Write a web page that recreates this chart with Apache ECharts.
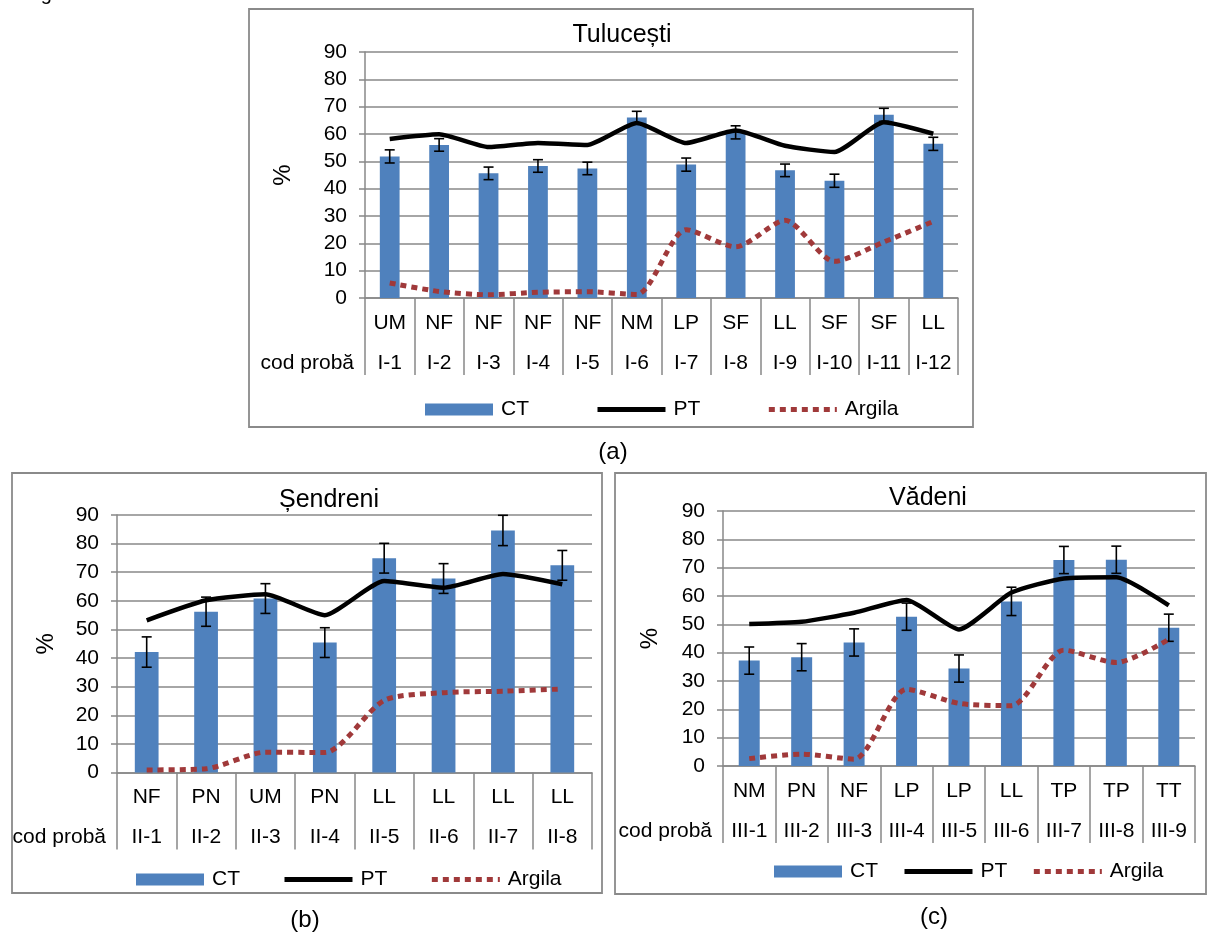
<!DOCTYPE html>
<html>
<head>
<meta charset="utf-8">
<script src="https://cdn.jsdelivr.net/npm/echarts@6/dist/echarts.min.js"></script>
<style>
  html, body { margin: 0; padding: 0; background: #fff; }
  #chart { width: 1208px; height: 935px; }
</style>
</head>
<body>
<div id="chart"></div>
<script>
// (a) Tulucești
const codesA = ['UM', 'NF', 'NF', 'NF', 'NF', 'NM', 'LP', 'SF', 'LL', 'SF', 'SF', 'LL'];
const idsA = ['I-1', 'I-2', 'I-3', 'I-4', 'I-5', 'I-6', 'I-7', 'I-8', 'I-9', 'I-10', 'I-11', 'I-12'];
const ctA = [51.8, 56.0, 45.6, 48.3, 47.4, 66.0, 48.8, 60.6, 46.7, 42.9, 67.0, 56.4];
const errA = [2.4, 2.3, 2.3, 2.3, 2.3, 2.3, 2.4, 2.4, 2.3, 2.4, 2.4, 2.4];
const ptA = [58.2, 59.9, 55.2, 56.7, 56.0, 64.0, 56.7, 61.3, 55.7, 53.4, 64.3, 60.1];
const argA = [5.5, 2.4, 1.2, 2.1, 2.3, 1.3, 25.0, 18.7, 28.4, 13.4, 20.5, 28.0];

// (b) Șendreni
const codesB = ['NF', 'PN', 'UM', 'PN', 'LL', 'LL', 'LL', 'LL'];
const idsB = ['II-1', 'II-2', 'II-3', 'II-4', 'II-5', 'II-6', 'II-7', 'II-8'];
const ctB = [42.1, 56.2, 60.8, 45.4, 74.9, 67.8, 84.6, 72.4];
const errB = [5.3, 5.1, 5.2, 5.2, 5.2, 5.2, 5.3, 5.2];
const ptB = [53.2, 60.2, 62.3, 55.0, 66.9, 64.6, 69.4, 65.8];
const argB = [0.9, 1.3, 7.1, 7.0, 25.2, 27.9, 28.4, 29.2];

// (c) Vădeni
const codesC = ['NM', 'PN', 'NF', 'LP', 'LP', 'LL', 'TP', 'TP', 'TT'];
const idsC = ['III-1', 'III-2', 'III-3', 'III-4', 'III-5', 'III-6', 'III-7', 'III-8', 'III-9'];
const ctC = [37.2, 38.4, 43.6, 52.7, 34.4, 58.1, 72.7, 72.8, 48.8];
const errC = [4.8, 4.8, 4.8, 4.8, 4.8, 5.0, 4.8, 4.8, 4.8];
const ptC = [50.1, 50.9, 54.1, 58.6, 48.2, 61.2, 66.2, 66.6, 56.7];
const argC = [2.6, 4.2, 2.4, 27.1, 22.1, 21.3, 40.9, 36.5, 44.7];

const FONT = '"Liberation Sans", Arial, sans-serif';
const GRID_COLOR = '#888888';
const BAR_COLOR = '#4f81bd';
const ARG_COLOR = '#a0393a';

const panels = [
  { codes: codesA, ids: idsA, ct: ctA, err: errA, pt: ptA, arg: argA,
    grid: { left: 365, top: 52, width: 593, height: 246 },
    title: 'Tulucești', titleX: 617, titleY: 18, nameGap: 70,
    legend: { left: 420, top: 394, itemGap: 66 },
    box: [249, 9, 724, 418], caption: '(a)', capX: 613, capY: 452 },
  { codes: codesB, ids: idsB, ct: ctB, err: errB, pt: ptB, arg: argB,
    grid: { left: 117, top: 515, width: 475, height: 257.5 },
    title: 'Șendreni', titleX: 324, titleY: 483, nameGap: 59,
    legend: { left: 131, top: 864, itemGap: 42 },
    box: [12, 473, 590, 420], caption: '(b)', capX: 305, capY: 920 },
  { codes: codesC, ids: idsC, ct: ctC, err: errC, pt: ptC, arg: argC,
    grid: { left: 723, top: 511, width: 472, height: 255 },
    title: 'Vădeni', titleX: 923, titleY: 481, nameGap: 61,
    legend: { left: 769, top: 856, itemGap: 24 },
    box: [615, 473, 591, 421], caption: '(c)', capX: 934, capY: 917 }
];

function errorBars(gi, ct, err) {
  return {
    type: 'custom',
    xAxisIndex: gi,
    yAxisIndex: gi,
    z: 3,
    silent: true,
    data: ct.map((v, i) => [i, v - err[i], v + err[i]]),
    renderItem(params, api) {
      const lo = api.coord([api.value(0), api.value(1)]);
      const hi = api.coord([api.value(0), api.value(2)]);
      const hw = 5;
      const st = { stroke: '#000', lineWidth: 1.6 };
      return {
        type: 'group',
        children: [
          { type: 'line', shape: { x1: lo[0], y1: lo[1], x2: hi[0], y2: hi[1] }, style: st },
          { type: 'line', shape: { x1: lo[0] - hw, y1: lo[1], x2: lo[0] + hw, y2: lo[1] }, style: st },
          { type: 'line', shape: { x1: hi[0] - hw, y1: hi[1], x2: hi[0] + hw, y2: hi[1] }, style: st }
        ]
      };
    }
  };
}

const grids = [], xAxes = [], yAxes = [], series = [], titles = [], legends = [], graphics = [];

panels.forEach((p, gi) => {
  grids.push(Object.assign({ containLabel: false }, p.grid));

  xAxes.push({
    type: 'category',
    gridIndex: gi,
    data: p.codes.map((c, i) => c + '\n' + p.ids[i]),
    axisLine: { lineStyle: { color: GRID_COLOR, width: 1.5 } },
    axisTick: { show: true, length: 77, interval: 0, lineStyle: { color: GRID_COLOR, width: 1.5 } },
    axisLabel: {
      interval: 0, margin: 5, color: '#000', fontFamily: FONT, fontSize: 21,
      lineHeight: 40, verticalAlign: 'top'
    },
    splitLine: { show: false }
  });

  yAxes.push({
    type: 'value',
    gridIndex: gi,
    min: 0, max: 90, interval: 10,
    name: '%',
    nameLocation: 'middle',
    nameGap: p.nameGap,
    nameRotate: 90,
    nameTextStyle: { color: '#000', fontFamily: FONT, fontSize: 24 },
    axisLine: { show: true, lineStyle: { color: GRID_COLOR, width: 1.5 } },
    axisTick: { show: true, length: 6, lineStyle: { color: GRID_COLOR, width: 1.5 } },
    axisLabel: { margin: 18, color: '#000', fontFamily: FONT, fontSize: 21 },
    splitLine: { lineStyle: { color: GRID_COLOR, width: 1.5 } }
  });

  series.push({
    name: 'CT', type: 'bar', xAxisIndex: gi, yAxisIndex: gi,
    data: p.ct, barWidth: '40%',
    itemStyle: { color: BAR_COLOR }
  });
  series.push(errorBars(gi, p.ct, p.err));
  series.push({
    name: 'PT', type: 'line', xAxisIndex: gi, yAxisIndex: gi,
    data: p.pt, symbol: 'none', smooth: 0.18, z: 4,
    lineStyle: { color: '#000', width: 4.5 },
    itemStyle: { color: '#000' }
  });
  series.push({
    name: 'Argila', type: 'line', xAxisIndex: gi, yAxisIndex: gi,
    data: p.arg, symbol: 'none', smooth: 0.25, z: 5,
    lineStyle: { color: ARG_COLOR, width: 5, type: [6, 5] },
    itemStyle: { color: ARG_COLOR }
  });

  titles.push({
    text: p.title, left: p.titleX, top: p.titleY, textAlign: 'center',
    textStyle: { fontFamily: FONT, fontSize: 25, fontWeight: 'normal', color: '#000' }
  });

  legends.push({
    data: [
      { name: 'CT', icon: 'rect' },
      { name: 'PT', itemStyle: { opacity: 0 } },
      { name: 'Argila', itemStyle: { opacity: 0 } }
    ],
    left: p.legend.left, top: p.legend.top, itemGap: p.legend.itemGap,
    itemWidth: 68, itemHeight: 12, selectedMode: false,
    lineStyle: { width: 5 },
    textStyle: { fontFamily: FONT, fontSize: 21, color: '#000', padding: [0, 0, 0, 3] }
  });

  graphics.push({
    type: 'rect', silent: true, z: -1,
    shape: { x: p.box[0], y: p.box[1], width: p.box[2], height: p.box[3] },
    style: { fill: 'none', stroke: '#8a8a8a', lineWidth: 1.8 }
  });
  graphics.push({
    type: 'text', silent: true,
    style: {
      x: p.grid.left - 11, y: p.grid.top + p.grid.height + 65,
      text: 'cod probă', align: 'right', verticalAlign: 'middle',
      font: '21px ' + FONT, fill: '#000'
    }
  });
  graphics.push({
    type: 'text', silent: true,
    style: {
      x: p.capX, y: p.capY, text: p.caption, align: 'center', verticalAlign: 'middle',
      font: '24px ' + FONT, fill: '#000'
    }
  });
});

// cropped caption from the page above
graphics.push({
  type: 'text', silent: true,
  style: { x: 24, y: 4, text: 'Fig', verticalAlign: 'bottom', font: '20px ' + FONT, fill: '#000' }
});

const chart = echarts.init(document.getElementById('chart'));
chart.setOption({
  animation: false,
  backgroundColor: '#fff',
  title: titles,
  legend: legends,
  grid: grids,
  xAxis: xAxes,
  yAxis: yAxes,
  series: series,
  graphic: graphics
});
</script>
</body>
</html>
